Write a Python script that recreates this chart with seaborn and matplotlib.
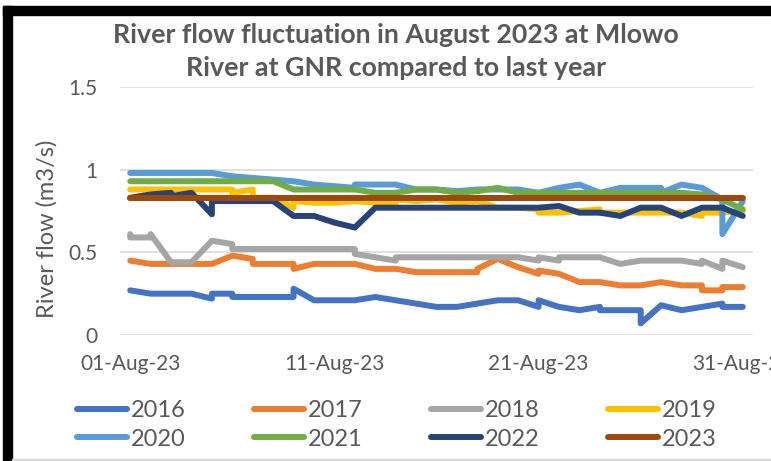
import numpy as np
import pandas as pd
import seaborn as sns
import matplotlib.pyplot as plt
import matplotlib.dates as mdates
from matplotlib.patches import Rectangle

# daily river flow (m3/s), some days have two readings
days_2016 = [1, 2, 3, 4, 5, 5, 6, 6, 7, 8, 9, 9, 10, 11, 12, 13, 14, 15, 16, 17, 18, 19, 20, 21, 21, 22, 23, 24, 24, 25, 26, 26, 27, 28, 29, 30, 30, 31]
flow_2016 = [.27, .25, .25, .25, .22, .25, .25, .23, .23, .23, .23, .28, .21, .21, .21, .23, .21, .19, .17, .17, .19, .21, .21, .17, .21, .17, .15, .17, .15, .15, .15, .07, .18, .15, .17, .19, .17, .17]

days_2017 = [1, 2, 3, 4, 5, 6, 7, 7, 8, 9, 9, 10, 11, 12, 13, 14, 15, 16, 17, 18, 18, 19, 20, 21, 21, 22, 23, 24, 25, 26, 27, 28, 29, 29, 30, 30, 31]
flow_2017 = [.45, .43, .43, .43, .43, .48, .46, .43, .43, .43, .40, .43, .43, .43, .40, .40, .38, .38, .38, .38, .40, .46, .41, .37, .39, .37, .32, .32, .30, .30, .32, .30, .30, .27, .27, .29, .29]

days_2018 = [1, 1, 2, 2, 3, 4, 5, 6, 6, 7, 8, 9, 10, 11, 12, 12, 13, 14, 14, 15, 16, 17, 18, 19, 20, 21, 21, 22, 22, 23, 24, 25, 26, 27, 28, 29, 29, 30, 30, 31]
flow_2018 = [.61, .59, .59, .61, .44, .44, .57, .55, .52, .52, .52, .52, .52, .52, .52, .49, .47, .45, .47, .47, .47, .47, .47, .47, .47, .45, .47, .45, .47, .47, .47, .43, .45, .45, .45, .43, .45, .40, .45, .41]

days_2019 = [1, 2, 3, 4, 5, 6, 6, 7, 7, 8, 9, 9, 10, 11, 12, 13, 14, 14, 15, 16, 17, 18, 19, 20, 21, 21, 22, 23, 24, 24, 25, 26, 27, 28, 29, 29, 30, 31]
flow_2019 = [.88, .88, .88, .88, .88, .88, .86, .88, .83, .83, .77, .81, .80, .80, .81, .80, .80, .82, .81, .82, .80, .81, .77, .77, .76, .74, .74, .75, .76, .74, .74, .74, .74, .74, .72, .74, .74, .75]

days_2020 = [1, 2, 3, 4, 5, 6, 7, 8, 9, 10, 11, 12, 12, 13, 14, 15, 16, 17, 18, 19, 20, 21, 22, 23, 24, 25, 26, 27, 27, 28, 29, 30, 30, 31]
flow_2020 = [.98, .98, .98, .98, .98, .96, .95, .94, .93, .91, .90, .89, .91, .91, .91, .88, .88, .87, .88, .88, .88, .86, .89, .91, .86, .89, .89, .89, .86, .91, .89, .82, .61, .81]

days_2021 = list(range(1, 32))
flow_2021 = [.93, .93, .93, .93, .93, .93, .93, .93, .88, .88, .88, .88, .86, .86, .88, .88, .86, .87, .89, .86,
             .86, .86, .86, .86, .86, .86, .86, .86, .85, .82, .76]

days_2022 = [1, 2, 3, 3, 4, 5, 5, 6, 7, 8, 9, 10, 11, 12, 13, 14, 15, 16, 17, 18, 19, 20, 21, 22, 23, 24, 25, 26, 27, 28, 29, 30, 31]
flow_2022 = [.83, .85, .86, .84, .86, .73, .81, .81, .81, .81, .72, .72, .68, .65, .77, .77, .77, .77, .77, .77, .77, .77, .77, .78, .74, .74, .72, .77, .77, .72, .77, .77, .72]

days_2023 = list(range(1, 32))
flow_2023 = [.83] * 31

years = ['2016', '2017', '2018', '2019', '2020', '2021', '2022', '2023']
all_days = [days_2016, days_2017, days_2018, days_2019, days_2020, days_2021, days_2022, days_2023]
all_flow = [flow_2016, flow_2017, flow_2018, flow_2019, flow_2020, flow_2021, flow_2022, flow_2023]
colors = ['#4472C4', '#ED7D31', '#A5A5A5', '#FFC000', '#5B9BD5', '#70AD47', '#264478', '#9E480E']

start = pd.Timestamp('2023-08-01')

sns.set_style('white')
plt.rcParams['font.family'] = ['Lato', 'DejaVu Sans']
txt = '#595959'

fig = plt.figure(figsize=(7.71, 4.61), dpi=100)
ax = fig.add_axes([120 / 771, 1 - 335 / 461, 633 / 771, 248 / 461])

for yr, d, f, c in zip(years, all_days, all_flow, colors):
    df = pd.DataFrame({'date': start + pd.to_timedelta(np.array(d) - 1, unit='D'), 'flow': f})
    sns.lineplot(data=df, x='date', y='flow', color=c, label=yr, ax=ax,
                 sort=False, estimator=None, linewidth=4.3,
                 solid_capstyle='round', solid_joinstyle='round')

ax.set_ylim(0, 1.5)
ax.set_yticks([0, 0.5, 1, 1.5])
ax.set_yticklabels(['0', '0.5', '1', '1.5'])
ax.set_xlim(start - pd.Timedelta(hours=12), pd.Timestamp('2023-08-31') + pd.Timedelta(hours=12))
ax.set_xticks(pd.to_datetime(['2023-08-01', '2023-08-11', '2023-08-21', '2023-08-31']))
ax.xaxis.set_major_formatter(mdates.DateFormatter('%d-%b-%y'))
ax.grid(axis='y', color='#D9D9D9', linewidth=1.2)
ax.set_axisbelow(True)
for s in ax.spines.values():
    s.set_visible(False)
ax.tick_params(axis='both', length=0, colors=txt, labelsize=15)
ax.tick_params(axis='y', pad=16)
ax.tick_params(axis='x', pad=14)
ax.set_xlabel('')
ax.set_ylabel('River flow (m3/s)', color=txt, fontsize=17)
ax.yaxis.set_label_coords(-62 / 633, 0.43)

fig.text(396 / 771, 1 - 35 / 461, 'River flow fluctuation in August 2023 at Mlowo', ha='center', va='center',
         fontsize=19.3, fontweight='bold', color=txt)
fig.text(396 / 771, 1 - 68 / 461, 'River at GNR compared to last year', ha='center', va='center',
         fontsize=19.3, fontweight='bold', color=txt)

# legend goes row by row like excel: reorder for matplotlib's column filling
handles, labels = ax.get_legend_handles_labels()
order = [0, 4, 1, 5, 2, 6, 3, 7]
ax.legend([handles[i] for i in order], [labels[i] for i in order], ncol=4, loc='center',
          bbox_to_anchor=(397 / 771, 1 - 425 / 461), bbox_transform=fig.transFigure,
          frameon=False, fontsize=17, labelcolor=txt,
          handlelength=2.1, handletextpad=0.17, columnspacing=2.9, labelspacing=0.3)

# chart frame as it shows in the screenshot
fig.patches.append(Rectangle((3 / 771, 0), 9 / 771, 455 / 461, transform=fig.transFigure, color='black'))
fig.patches.append(Rectangle((3 / 771, 446 / 461), 768 / 771, 9 / 461, transform=fig.transFigure, color='black'))
fig.patches.append(Rectangle((12 / 771, 0), 759 / 771, 2 / 461, transform=fig.transFigure, color='#D9D9D9'))

fig.savefig('out.png', dpi=100)
